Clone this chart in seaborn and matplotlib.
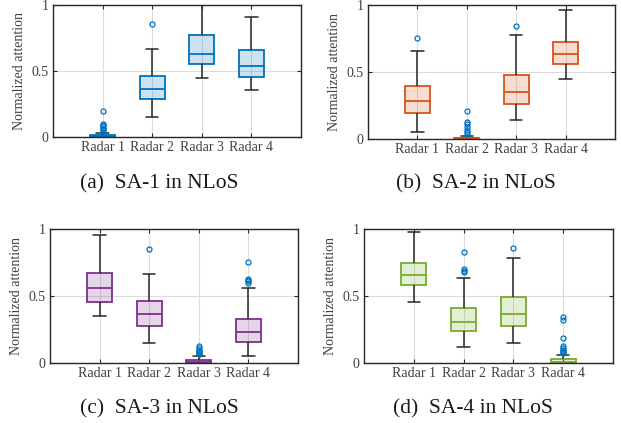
import numpy as np
import pandas as pd
import matplotlib
matplotlib.use("Agg")
import matplotlib.pyplot as plt
import seaborn as sns
from matplotlib.colors import to_rgba

# ---------------- data ----------------
radars = ["Radar 1", "Radar 2", "Radar 3", "Radar 4"]
captions = ["(a)  SA-1 in NLoS", "(b)  SA-2 in NLoS",
            "(c)  SA-3 in NLoS", "(d)  SA-4 in NLoS"]
colors = ["#0072BD", "#D95319", "#7E2F8E", "#77AC30"]

# per radar: [lower whisker, q1, median, q3, upper whisker]
sa1_box = [[0.000, 0.002, 0.008, 0.015, 0.030],
           [0.151, 0.289, 0.367, 0.462, 0.668],
           [0.447, 0.553, 0.628, 0.769, 1.000],
           [0.354, 0.455, 0.535, 0.661, 0.910]]
sa1_fliers = [[0.04, 0.05, 0.06, 0.07, 0.08, 0.09, 0.10, 0.198],
              [0.857], [], []]

sa2_box = [[0.050, 0.195, 0.285, 0.395, 0.660],
           [0.000, 0.000, 0.005, 0.010, 0.020],
           [0.140, 0.260, 0.350, 0.475, 0.775],
           [0.450, 0.560, 0.635, 0.725, 0.963]]
sa2_fliers = [[0.753],
              [0.035, 0.05, 0.07, 0.09, 0.11, 0.13, 0.21],
              [0.843], []]

sa3_box = [[0.351, 0.453, 0.562, 0.674, 0.953],
           [0.152, 0.276, 0.366, 0.460, 0.667],
           [0.000, 0.003, 0.010, 0.025, 0.055],
           [0.052, 0.159, 0.234, 0.326, 0.560]]
sa3_fliers = [[], [0.851],
              [0.065, 0.07, 0.08, 0.09, 0.10, 0.11, 0.13],
              [0.60, 0.61, 0.62, 0.63, 0.751]]

sa4_box = [[0.456, 0.579, 0.653, 0.748, 0.980],
           [0.122, 0.239, 0.307, 0.411, 0.631],
           [0.152, 0.277, 0.362, 0.489, 0.785],
           [0.000, 0.002, 0.010, 0.030, 0.062]]
sa4_fliers = [[], [0.68, 0.69, 0.70, 0.825], [0.858],
              [0.075, 0.08, 0.09, 0.10, 0.11, 0.13, 0.19, 0.32, 0.34]]

panels = [(sa1_box, sa1_fliers), (sa2_box, sa2_fliers),
          (sa3_box, sa3_fliers), (sa4_box, sa4_fliers)]


def sample_from_summary(box, fliers, rep=100):
    """Sample whose box-plot statistics equal the values read above."""
    rows = []
    for name, b, f in zip(radars, box, fliers):
        vals = list(np.repeat(b, rep)) + list(f)
        rows += [(name, v) for v in vals]
    return pd.DataFrame(rows, columns=["radar", "value"])


# ---------------- style ----------------
sns.set_theme(style="white")
plt.rcParams["font.family"] = ["Liberation Serif", "DejaVu Serif"]

W, H = 621, 423
fig = plt.figure(figsize=(W / 100, H / 100), dpi=100)

# axes boxes in pixels: left, top, right, bottom
ax_px = [(53, 5, 301, 137), (368, 5, 615, 139),
         (50, 229, 298, 363), (364, 229, 613, 363)]
cap_px = [(159, 184), (476, 184), (159, 409), (473, 409)]

dark = "#262626"
txt = "#404040"
for i, ((box, fl), (l, t, r, b)) in enumerate(zip(panels, ax_px)):
    ax = fig.add_axes([l / W, 1 - b / H, (r - l) / W, (b - t) / H])
    ax.set_axisbelow(True)
    df = sample_from_summary(box, fl)
    col = colors[i]
    sns.boxplot(data=df, x="radar", y="value", ax=ax, width=0.5,
                whis=1.5, saturation=1, order=radars,
                boxprops=dict(facecolor=to_rgba(col, 0.2), edgecolor=col,
                              linewidth=1.3),
                medianprops=dict(color=col, linewidth=1.3),
                whiskerprops=dict(color=dark, linewidth=1.1),
                capprops=dict(color=dark, linewidth=1.1),
                flierprops=dict(marker="o", markersize=3.6,
                                markerfacecolor="none",
                                markeredgecolor="#0072BD",
                                markeredgewidth=0.9))
    ax.set_xlim(-1, 4)
    ax.set_ylim(0, 1)
    ax.set_yticks([0, 0.5, 1])
    ax.set_yticklabels(["0", "0.5", "1"])
    ax.set_xlabel("")
    ax.set_ylabel("Normalized attention", fontsize=10, color=txt,
                  labelpad=4)
    ax.grid(True, color="#dcdcdc", linewidth=0.8)
    ax.tick_params(direction="in", length=3, width=0.8, colors=dark,
                   labelcolor=txt, labelsize=10, top=True, right=True,
                   bottom=True, left=True, pad=3)
    for s in ax.spines.values():
        s.set_color(dark)
        s.set_linewidth(1.0)
    cx, cy = cap_px[i]
    fig.text(cx / W, 1 - cy / H, captions[i], ha="center", va="center",
             fontsize=15.5, color="#1a1a1a")

fig.savefig("out.png", dpi=100)
